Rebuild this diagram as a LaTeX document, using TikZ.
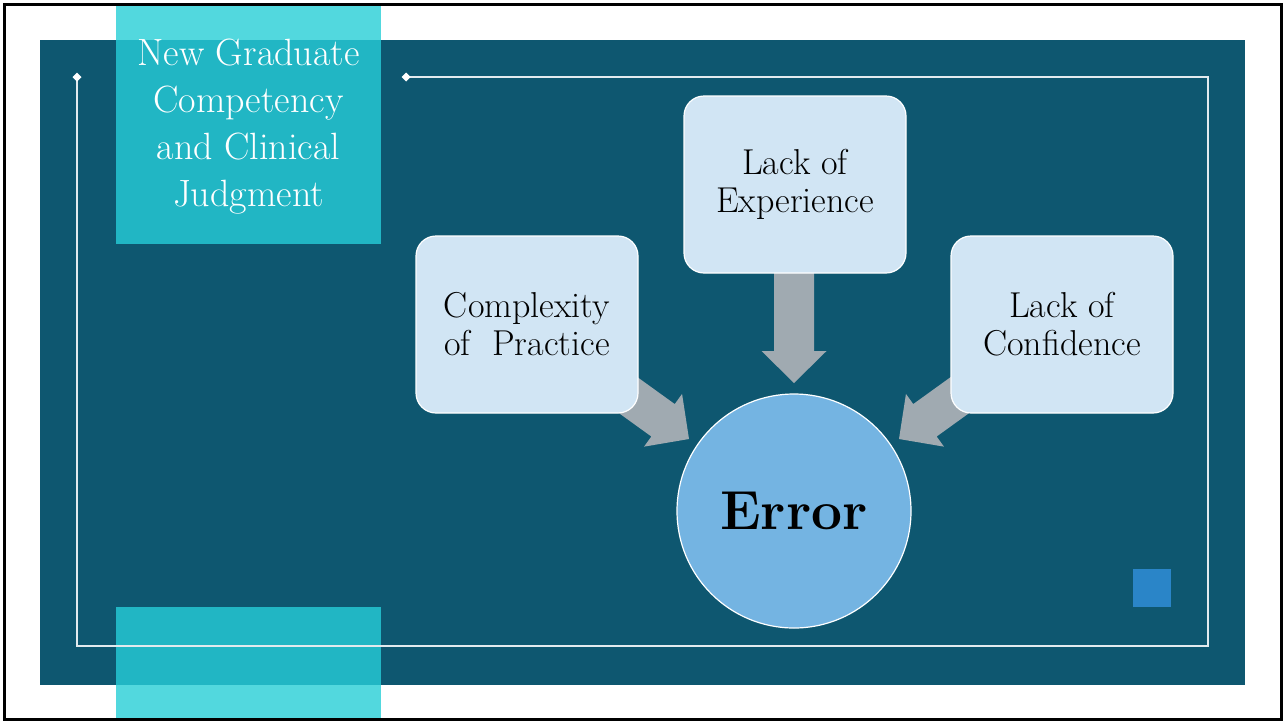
\documentclass[tikz,border=0pt]{standalone}
\usepackage{fontspec}
\usetikzlibrary{calc}

\definecolor{slate}{HTML}{0E5770}
\definecolor{tealpale}{HTML}{52D8DE}
\definecolor{tealdeep}{HTML}{21B6C4}
\definecolor{boxfill}{HTML}{D1E5F4}
\definecolor{errfill}{HTML}{74B4E2}
\definecolor{arrowgray}{HTML}{A0AAB1}
\definecolor{accent}{HTML}{2A85C8}
\definecolor{frameline}{HTML}{E2EAEE}

\tikzset{
  factor/.style={draw=white, line width=1.2pt, fill=boxfill, rounded corners=20pt,
    minimum width=222pt, minimum height=177pt, align=center, text=black,
    font=\fontsize{36}{38}\selectfont},
  errnode/.style={circle, draw=white, line width=1.2pt, fill=errfill, minimum size=234pt,
    inner sep=0pt, text=black, font=\fontsize{55}{60}\selectfont\bfseries},
  titletext/.style={align=center, text=white, font=\fontsize{38}{47}\selectfont},
  thinframe/.style={draw=frameline, line width=1.4pt},
  blockfill/.style={fill=arrowgray}
}

% wide block arrow whose tip sits on #1, turned by #2 degrees
\newcommand\blockarrow[2]{%
  \fill[blockfill, shift={(#1)}, rotate=#2]
    (0,0) -- (-32,-32.5) -- (-32,-20) -- (-112,-20) -- (-112,20) -- (-32,20) -- (-32,32.5) -- cycle;}

\begin{document}
\begin{tikzpicture}[x=1pt, y=-1pt]
\useasboundingbox (0,0) rectangle (1287,721);
\fill[white] (0,0) rectangle (1287,721);

% dark panel
\fill[slate] (40,40) rectangle (1245,685);

% teal bars, paler where they leave the panel
\fill[tealpale] (116,5) rectangle (381,244);
\fill[tealdeep] (116,40) rectangle (381,244);
\fill[tealpale] (116,607) rectangle (381,718);
\fill[tealdeep] (116,607) rectangle (381,685);

% thin inner frame with diamond ends
\draw[thinframe] (406,77) -- (1208,77) -- (1208,646) -- (77,646) -- (77,77);
\fill[white] (77,72.5) -- (81.5,77) -- (77,81.5) -- (72.5,77) -- cycle;
\fill[white] (406,72.5) -- (410.5,77) -- (406,81.5) -- (401.5,77) -- cycle;

% small accent square
\fill[accent] (1133,569) rectangle (1171,607);

% title
\node[titletext] (title) at (248.5,127) {New Graduate\\Competency\\and Clinical\\Judgment};

% arrow tips
\coordinate (tipL) at (689,439);
\coordinate (tipT) at (794,383);
\coordinate (tipR) at (899,439);

% arrows sit behind the boxes
\blockarrow{tipL}{-35.8}
\blockarrow{tipT}{-90}
\blockarrow{tipR}{-144.2}

% factor boxes
\node[factor] (complexity) at (527,324.5) {Complexity\\of~ Practice};
\node[factor] (experience) at (795,184.5) {Lack of\\Experience};
\node[factor] (confidence) at (1062,324.5) {Lack of\\Confidence};

% central circle
\node[errnode] (error) at (794,511) {Error};

% outer border
\draw[line width=3pt] (4.5,4.5) rectangle (1281.5,719);
\end{tikzpicture}
\end{document}
